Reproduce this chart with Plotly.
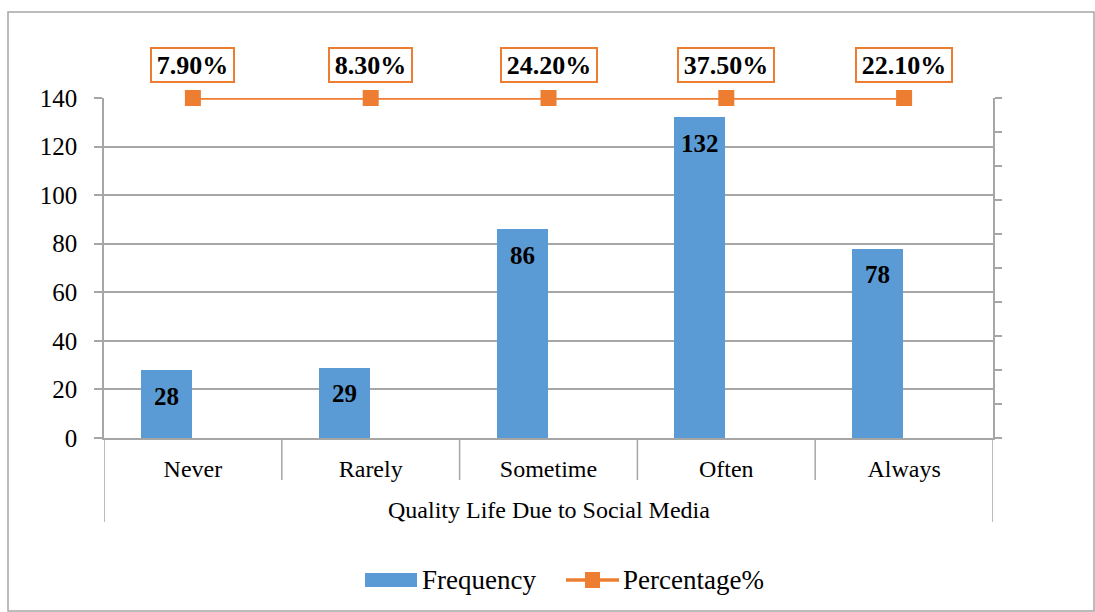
import plotly.graph_objects as go

categories = ["Never", "Rarely", "Sometime", "Often", "Always"]
frequency = [28, 29, 86, 132, 78]
percentage = [7.90, 8.30, 24.20, 37.50, 22.10]
pct_labels = ["7.90%", "8.30%", "24.20%", "37.50%", "22.10%"]

Y2_MAX = 1.0
line_y = [min(p, Y2_MAX) for p in percentage]  # values exceed secondary axis max -> pinned at top

BLUE = "#5B9BD5"
ORANGE = "#ED7D31"
GRID = "#A6A6A6"
FONT = "Liberation Serif"

W, H = 889.0, 340.0
def px(x):
    return (x - 104) / W
def py(y):
    return (438 - y) / H

fig = go.Figure()
fig.add_trace(go.Bar(
    x=categories, y=frequency, name="Frequency",
    marker=dict(color=BLUE, line=dict(width=0)),
    width=0.287, offset=-0.292, showlegend=False,
))
fig.add_trace(go.Scatter(
    x=categories, y=line_y, name="Percentage%", yaxis="y2",
    mode="lines+markers", cliponaxis=False, showlegend=False,
    line=dict(color=ORANGE, width=3.5),
    marker=dict(symbol="square", size=16, color=ORANGE),
))

# bar value labels
for i, (c, v) in enumerate(zip(categories, frequency)):
    fig.add_annotation(
        x=i - 0.292 + 0.287 / 2, y=v, xref="x", yref="y", text="<b>%d</b>" % v,
        showarrow=False, yshift=-26, yanchor="middle",
        font=dict(family=FONT, size=25, color="black"),
    )

for c, yv, t in zip(categories, line_y, pct_labels):
    fig.add_annotation(
        x=c, y=yv, xref="x", yref="y2", text="<b>" + t + "</b>",
        showarrow=False, yshift=33, width=len(t) * 13 + 12, height=28,
        font=dict(family=FONT, size=26, color="black"),
        bordercolor=ORANGE, borderwidth=2, borderpad=2, bgcolor="white",
    )

# hierarchical category axis separators
for k in range(6):
    edge = k - 0.5
    outer = k in (0, 5)
    fig.add_shape(type="line", xref="x", yref="paper", x0=edge, x1=edge,
                  y0=0, y1=-(84 / H if outer else 42 / H),
                  line=dict(color=GRID, width=1.5))

fig.add_annotation(x=0.5, y=py(510), xref="paper", yref="paper",
                   text="Quality Life Due to Social Media", showarrow=False,
                   font=dict(family=FONT, size=24, color="black"), yanchor="middle")

# custom legend
fig.add_shape(type="rect", xref="paper", yref="paper", x0=px(365), x1=px(417),
              y0=py(587), y1=py(573), fillcolor=BLUE, line=dict(width=0))
fig.add_annotation(x=px(420), y=py(580), xref="paper", yref="paper", text="Frequency",
                   showarrow=False, xanchor="left", yanchor="middle",
                   font=dict(family=FONT, size=27, color="black"))
fig.add_shape(type="line", xref="paper", yref="paper", x0=px(566), x1=px(619),
              y0=py(580), y1=py(580), line=dict(color=ORANGE, width=3.5))
fig.add_shape(type="rect", xref="paper", yref="paper", x0=px(585), x1=px(600),
              y0=py(588), y1=py(572), fillcolor=ORANGE, line=dict(width=0))
fig.add_annotation(x=px(621), y=py(580), xref="paper", yref="paper", text="Percentage%",
                   showarrow=False, xanchor="left", yanchor="middle",
                   font=dict(family=FONT, size=27, color="black"))

# outer chart border
fig.add_shape(type="rect", xref="paper", yref="paper",
              x0=px(8), x1=px(1094), y0=py(611), y1=py(12),
              line=dict(color=GRID, width=1.5), fillcolor="rgba(0,0,0,0)")

fig.update_layout(
    width=1095, height=612,
    margin=dict(l=104, r=102, t=98, b=174),
    plot_bgcolor="white", paper_bgcolor="white",
    font=dict(family=FONT, size=24, color="black"),
    showlegend=False,
    xaxis=dict(type="category", range=[-0.5, 4.5], showgrid=False,
               showline=True, linecolor=GRID, linewidth=1.5,
               ticks="", ticklabelstandoff=8,
               tickfont=dict(family=FONT, size=24, color="black")),
    yaxis=dict(range=[0, 140], dtick=20, showgrid=True, gridcolor=GRID, gridwidth=1.5,
               showline=True, linecolor=GRID, linewidth=1.5, zeroline=False,
               ticks="outside", ticklen=8, tickcolor=GRID, tickwidth=1.5,
               ticklabelstandoff=12,
               tickfont=dict(family=FONT, size=25, color="black")),
    yaxis2=dict(range=[0, Y2_MAX], dtick=0.1, overlaying="y", side="right",
                showgrid=False, showline=True, linecolor=GRID, linewidth=1.5,
                ticks="outside", ticklen=7, tickcolor=GRID, tickwidth=1.5,
                showticklabels=False, zeroline=False),
    bargap=0,
)

fig.write_html("out.html")
